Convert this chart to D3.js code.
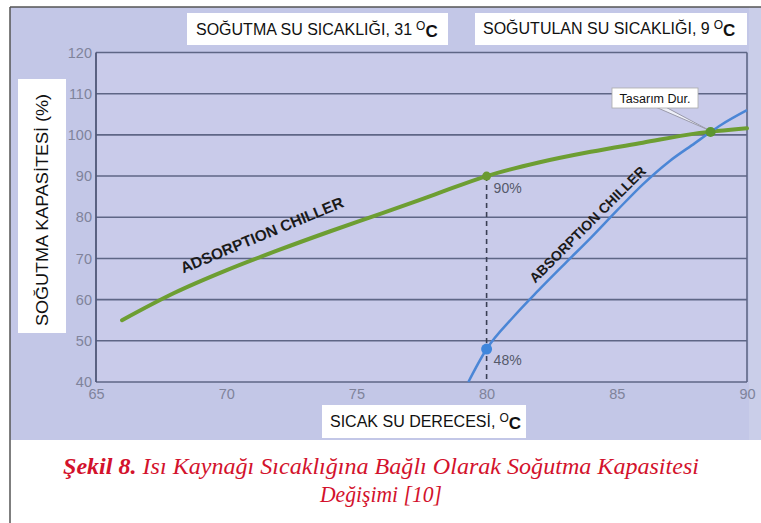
<!DOCTYPE html>
<html><head><meta charset="utf-8">
<script src="https://cdn.jsdelivr.net/npm/d3@7"></script>
<style>html,body{margin:0;padding:0;background:#fff;}svg{display:block;}</style>
</head><body>
<script>
// ---- data ----
const xTicks = [65, 70, 75, 80, 85, 90];
const yTicks = [40, 50, 60, 70, 80, 90, 100, 110, 120];
const adsorptionX = [66, 68, 70, 72, 74, 76, 78, 80, 82, 84, 86, 88, 90];
const adsorptionY = [55, 61.6, 67.1, 72, 76.6, 81, 85.5, 90, 93.3, 95.9, 98.1, 100.3, 101.6];
const absorptionX = [79.3, 80, 81, 82, 83, 84, 85, 86, 87, 88, 88.6, 89, 90];
const absorptionY = [40, 48, 55.6, 62.3, 68.7, 75, 81.6, 88, 93.5, 98, 100.7, 102.4, 106];
const markX = [80, 80];
const markY = [90, 48];
const markLabels = ["90%", "48%"];
const designX = 88.6, designY = 100.7;

const W = 761, H = 523;
const svg = d3.select("body").append("svg").attr("width", W).attr("height", H)
  .style("font-family", "'Liberation Sans', Arial, sans-serif");

// background
svg.append("rect").attr("x", 0).attr("y", 0).attr("width", W).attr("height", H).attr("fill", "#fff");
svg.append("rect").attr("x", 10).attr("y", 7).attr("width", W - 10).attr("height", 433).attr("fill", "#c3c7e7");
svg.append("rect").attr("x", 749).attr("y", 7).attr("width", 12).attr("height", 433).attr("fill", "#cacee9");
svg.append("line").attr("x1", 10).attr("x2", W).attr("y1", 7).attr("y2", 7).attr("stroke", "#555").attr("stroke-width", 1.5);
svg.append("line").attr("x1", 10).attr("x2", 10).attr("y1", 7).attr("y2", H).attr("stroke", "#555").attr("stroke-width", 1.5);

const x = d3.scaleLinear().domain([65, 90]).range([96, 747]);
const y = d3.scaleLinear().domain([40, 120]).range([382, 52.5]);

// plot area
svg.append("rect").attr("x", x(65)).attr("y", y(120)).attr("width", x(90) - x(65)).attr("height", y(40) - y(120))
  .attr("fill", "#c9cbea");

// grid lines
svg.append("g").selectAll("line").data(yTicks).join("line")
  .attr("x1", x(65)).attr("x2", x(90)).attr("y1", d => y(d)).attr("y2", d => y(d))
  .attr("stroke", "#5e6686").attr("stroke-width", 1.6);
// frame
svg.append("line").attr("x1", x(65)).attr("x2", x(65)).attr("y1", y(120)).attr("y2", y(40)).attr("stroke", "#4e5676").attr("stroke-width", 1.8);
svg.append("line").attr("x1", x(90)).attr("x2", x(90)).attr("y1", y(120)).attr("y2", y(40)).attr("stroke", "#5e6686").attr("stroke-width", 1.6);

// axes labels via d3 axes
const yAxis = svg.append("g").attr("transform", `translate(${x(65) - 3},0)`)
  .call(d3.axisLeft(y).tickValues(yTicks).tickSize(0).tickPadding(1));
yAxis.select(".domain").remove();
yAxis.selectAll("text").attr("fill", "#7f839b").style("font-size", "14.5px").style("font-family", "'Liberation Sans', Arial, sans-serif");

const xAxis = svg.append("g").attr("transform", `translate(0,${y(40) + 5})`)
  .call(d3.axisBottom(x).tickValues(xTicks).tickSize(0).tickPadding(2));
xAxis.select(".domain").remove();
xAxis.selectAll("text").attr("fill", "#7f839b").style("font-size", "14.5px").style("font-family", "'Liberation Sans', Arial, sans-serif");

// dashed line at 80
svg.append("line").attr("x1", x(markX[0])).attr("x2", x(markX[0])).attr("y1", y(markY[0])).attr("y2", y(40))
  .attr("stroke", "#3a3f55").attr("stroke-width", 1.6).attr("stroke-dasharray", "5,4");

// curves
const line = d3.line().x(d => x(d[0])).y(d => y(d[1])).curve(d3.curveMonotoneX);
svg.append("path").datum(adsorptionX.map((v, i) => [v, adsorptionY[i]]))
  .attr("d", line).attr("fill", "none").attr("stroke", "#6d9e32").attr("stroke-width", 4).attr("stroke-linecap", "round");
svg.append("path").datum(absorptionX.map((v, i) => [v, absorptionY[i]]))
  .attr("d", line).attr("fill", "none").attr("stroke", "#4b86d6").attr("stroke-width", 2.5);

// marker points
svg.append("circle").attr("cx", x(markX[0])).attr("cy", y(markY[0])).attr("r", 4.5).attr("fill", "#6a9a30");
svg.append("circle").attr("cx", x(markX[1])).attr("cy", y(markY[1])).attr("r", 5.5).attr("fill", "#3f86dc");
svg.selectAll("text.mk").data(markLabels).join("text").attr("class", "mk")
  .attr("x", x(80) + 7).attr("y", (d, i) => y(markY[i]) + (i === 0 ? 17 : 16))
  .attr("fill", "#55596a").style("font-size", "14px").text(d => d);

// design point + callout
svg.append("path")
  .attr("d", `M${x(designX) - 55},${y(designY) - 25} L${x(designX) - 45},${y(designY) - 25} L${x(designX) - 2},${y(designY) - 2} Z`)
  .attr("fill", "#eef0f8").attr("stroke", "#9a9aaa").attr("stroke-width", 1);
svg.append("circle").attr("cx", x(designX)).attr("cy", y(designY)).attr("r", 5).attr("fill", "#5c9630");
svg.append("rect").attr("x", 612).attr("y", 88).attr("width", 86).attr("height", 20).attr("fill", "#fff").attr("stroke", "#aaa").attr("stroke-width", 0.8);
svg.append("text").attr("x", 655).attr("y", 103).attr("text-anchor", "middle").attr("fill", "#111")
  .style("font-size", "12.5px").text("Tasarım Dur.");

// rotated series labels
svg.append("text").attr("transform", `translate(264,240) rotate(-22.5)`).attr("text-anchor", "middle")
  .attr("fill", "#1a1a1a").style("font-size", "15.5px").style("font-weight", "bold").text("ADSORPTION CHILLER");
svg.append("text").attr("transform", `translate(591,228) rotate(-45)`).attr("text-anchor", "middle")
  .attr("fill", "#1a1a1a").style("font-size", "14px").style("font-weight", "bold").text("ABSORPTION CHILLER");

// header boxes
function degLabel(g, tx, ty, txt, anchor) {
  const t = g.append("text").attr("x", tx).attr("y", ty).attr("text-anchor", anchor || "start").attr("fill", "#111").style("font-size", "16px");
  t.append("tspan").text(txt);
  t.append("tspan").attr("dx", 4).attr("dy", -5).style("font-size", "12px").text("O");
  t.append("tspan").attr("dy", 7).style("font-size", "17px").style("font-weight", "bold").text("C");
  return t;
}
svg.append("rect").attr("x", 187).attr("y", 13).attr("width", 261).attr("height", 32).attr("fill", "#fff");
degLabel(svg, 196, 35, "SOĞUTMA SU SICAKLIĞI, 31");
svg.append("rect").attr("x", 475).attr("y", 13).attr("width", 272).attr("height", 32).attr("fill", "#fff");
degLabel(svg, 483, 34, "SOĞUTULAN SU SICAKLIĞI, 9");

// x axis title
svg.append("rect").attr("x", 322).attr("y", 405).attr("width", 204).attr("height", 33).attr("fill", "#fff");
degLabel(svg, 330, 427, "SICAK SU DERECESİ,");

// y axis title
svg.append("rect").attr("x", 18).attr("y", 79).attr("width", 48).attr("height", 254).attr("fill", "#fff");
svg.append("text").attr("transform", "translate(48,210) rotate(-90)").attr("text-anchor", "middle")
  .attr("fill", "#111").style("font-size", "16px").attr("textLength", 232).attr("lengthAdjust", "spacingAndGlyphs")
  .text("SOĞUTMA KAPASİTESİ (%)");

// caption
const cap = svg.append("text").attr("x", 381).attr("y", 474).attr("text-anchor", "middle")
  .attr("fill", "#d3122c").style("font-family", "'Liberation Serif', 'Times New Roman', serif").style("font-size", "23px")
  .style("font-style", "italic").attr("textLength", 636).attr("lengthAdjust", "spacingAndGlyphs");
cap.append("tspan").style("font-weight", "bold").text("Şekil 8.");
cap.append("tspan").text(" Isı Kaynağı Sıcaklığına Bağlı Olarak Soğutma Kapasitesi");
svg.append("text").attr("x", 381).attr("y", 502).attr("text-anchor", "middle")
  .attr("fill", "#d3122c").style("font-family", "'Liberation Serif', 'Times New Roman', serif").style("font-size", "23px")
  .style("font-style", "italic").attr("textLength", 122).attr("lengthAdjust", "spacingAndGlyphs").text("Değişimi [10]");
</script>
</body></html>
